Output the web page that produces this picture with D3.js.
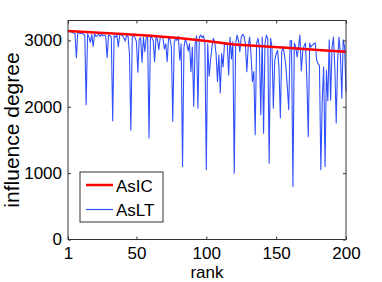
<!DOCTYPE html>
<html>
<head>
<meta charset="utf-8">
<script src="https://cdnjs.cloudflare.com/ajax/libs/d3/7.8.5/d3.min.js"></script>
<style>
	body { margin: 0; background: #fff; }
	svg text { font-family: "Liberation Sans", Arial, sans-serif; fill: #000; }
	.axis line, .axis path { stroke: #333; }
</style>
</head>
<body>
<svg width="382" height="282"></svg>
<script>
var xTicks = [1, 50, 100, 150, 200]
var yTicks = [0, 1000, 2000, 3000]

// AsIC read every 20 ranks
var icRank = [1, 20, 40, 60, 80, 100, 120, 140, 160, 180, 200]
var icValue = [3140, 3118, 3095, 3072, 3035, 2990, 2940, 2912, 2885, 2855, 2828]

// AsLT, one value per rank 1..200
var ltValue = [
	3140, 3130, 3135, 3120, 3110, 3100, 2740, 3120, 3110, 3100,
	3115, 3090, 3080, 2030, 3100, 3050, 2970, 3090, 2910, 3100,
	3060, 3070, 3100, 3060, 3090, 3070, 3080, 3060, 2740, 3080,
	3070, 3050, 1790, 3070, 3050, 3080, 2900, 3080, 3090, 3070,
	3040, 2990, 3080, 3060, 2800, 1650, 3060, 3070, 3040, 2980,
	2520, 3020, 3040, 2670, 3050, 2830, 3040, 3050, 1530, 3070,
	3040, 3000, 2680, 3050, 3020, 2860, 3040, 3060, 3030, 2870,
	2950, 2680, 3040, 3020, 2900, 1780, 2950, 3040, 3000, 3060,
	2700, 2950, 1100, 2900, 3020, 2960, 2840, 2950, 2530, 2900,
	2006, 2950, 3070, 1980, 3050, 3080, 3040, 3070, 2950, 1050,
	2950, 2460, 2690, 2900, 3030, 2980, 2800, 2380, 2780, 2210,
	2800, 2600, 2950, 2940, 2950, 2480, 3050, 2720, 2980, 1000,
	2950, 3080, 3000, 2830, 3050, 3090, 3060, 2950, 2530, 2900,
	3050, 2800, 2380, 2530, 1580, 2950, 3030, 2900, 1880, 3050,
	1600, 2950, 3080, 3030, 1150, 3030, 2900, 1980, 2700, 2800,
	2850, 2600, 1830, 2830, 2900, 2770, 2600, 2300, 1960, 2990,
	3000, 800, 2960, 2900, 2750, 2900, 3080, 2540, 2830, 2920,
	2960, 2400, 1550, 2960, 2900, 2930, 2950, 2960, 2700, 2650,
	2620, 1050, 2120, 2600, 1100, 2550, 2090, 3010, 2100, 2900,
	3050, 2600, 1755, 2700, 3050, 2800, 2130, 3010, 2900, 2230
]

var plotL = 68, plotR = 346, plotT = 20.5, plotB = 239.5

var svg = d3.select("svg")

var x = d3.scaleLinear().domain([1, 200]).range([plotL, plotR])
var y = d3.scaleLinear().domain([0, 3300]).range([plotB, plotT])

// lines
var ltLine = d3.line()
	.x(function(d, i){ return x(i + 1) })
	.y(function(d){ return y(d) })
svg.append("path")
	.datum(ltValue)
	.attr("d", ltLine)
	.attr("fill", "none")
	.attr("stroke", "#3050ff")
	.attr("stroke-width", 1.1)
	.attr("stroke-linejoin", "round")

var icLine = d3.line()
	.x(function(d, i){ return x(icRank[i]) })
	.y(function(d){ return y(d) })
svg.append("path")
	.datum(icValue)
	.attr("d", icLine)
	.attr("fill", "none")
	.attr("stroke", "#ff0000")
	.attr("stroke-width", 2.5)

// axes, ticks inward on all four sides
var fs = 17
var fmt = d3.format("d")
svg.append("g").attr("class", "axis")
	.attr("transform", "translate(0," + plotB + ")")
	.call(d3.axisBottom(x).tickValues(xTicks).tickFormat(fmt).tickSizeInner(-3).tickSizeOuter(0).tickPadding(7))
	.call(function(g){ g.selectAll("text").attr("font-size", fs).attr("dy", "0.75em") })
svg.append("g").attr("class", "axis")
	.attr("transform", "translate(0," + plotT + ")")
	.call(d3.axisTop(x).tickValues(xTicks).tickSizeInner(-3).tickSizeOuter(0).tickFormat(""))
svg.append("g").attr("class", "axis")
	.attr("transform", "translate(" + plotL + ",0)")
	.call(d3.axisLeft(y).tickValues(yTicks).tickFormat(fmt).tickSizeInner(-3).tickSizeOuter(0).tickPadding(6))
	.call(function(g){ g.selectAll("text").attr("font-size", fs) })
svg.append("g").attr("class", "axis")
	.attr("transform", "translate(" + plotR + ",0)")
	.call(d3.axisRight(y).tickValues(yTicks).tickSizeInner(-3).tickSizeOuter(0).tickFormat(""))

svg.append("rect")
	.attr("x", plotL).attr("y", plotT)
	.attr("width", plotR - plotL).attr("height", plotB - plotT)
	.attr("fill", "none").attr("stroke", "#333")

svg.selectAll(".axis .domain").remove()

// labels
svg.append("text")
	.attr("x", (plotL + plotR) / 2).attr("y", 278)
	.attr("text-anchor", "middle").attr("font-size", fs)
	.text("rank")
svg.append("text")
	.attr("transform", "translate(19," + ((plotT + plotB) / 2) + ") rotate(-90)")
	.attr("text-anchor", "middle").attr("font-size", 21)
	.text("influence degree")

// legend
var legend = svg.append("g")
legend.append("rect")
	.attr("x", 80).attr("y", 172).attr("width", 83).attr("height", 50)
	.attr("fill", "#fff").attr("stroke", "#333")
var items = [
	{name: "AsIC", color: "#ff0000", width: 2.5},
	{name: "AsLT", color: "#3050ff", width: 1.2}
]
items.forEach(function(d, i){
	var cy = 185 + i * 24.5
	legend.append("line")
		.attr("x1", 86).attr("x2", 113).attr("y1", cy).attr("y2", cy)
		.attr("stroke", d.color).attr("stroke-width", d.width)
	legend.append("text")
		.attr("x", 116).attr("y", cy + 6.5)
		.attr("font-size", fs)
		.text(d.name)
})
</script>
</body>
</html>
